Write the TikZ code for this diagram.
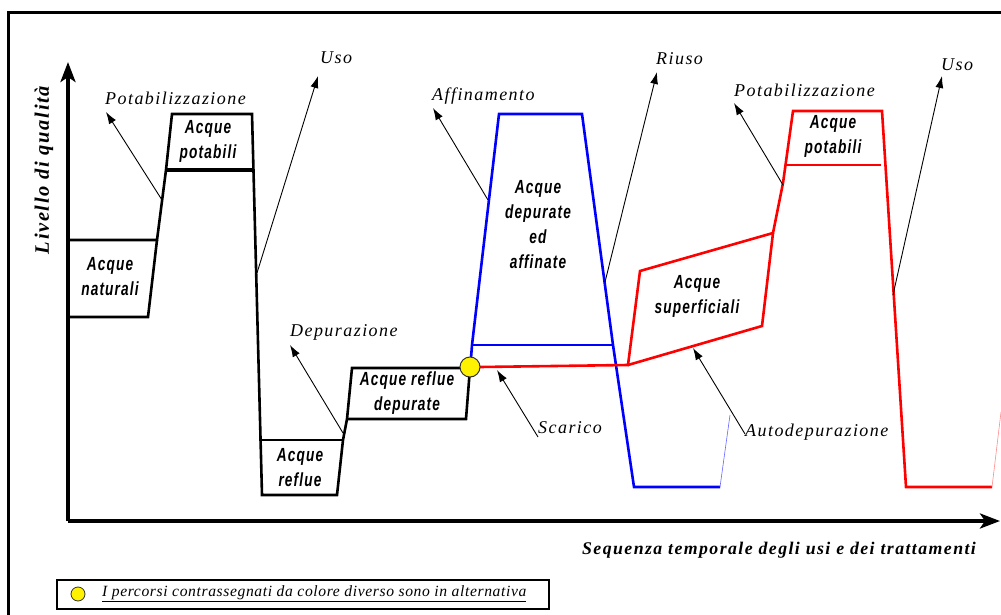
\documentclass[tikz,border=0pt]{standalone}
\usepackage{fontspec}
\setmainfont{Liberation Serif}
\newfontfamily\boxfont[FakeStretch=0.72,LetterSpace=6]{Liberation Sans}
\newfontfamily\lblfont[LetterSpace=8]{Liberation Serif}
\newfontfamily\legfont[LetterSpace=4]{Liberation Serif}
\usetikzlibrary{arrows.meta,positioning}
\tikzset{wline/.style={line width=2.6pt, line join=miter},
        blueline/.style={wline, draw=blue},
        redline/.style={wline, draw=red},
        faint/.style={line width=0.6pt},
        axis/.style={line width=3.6pt, -{Stealth[length=20pt,width=15pt,inset=5pt]}},
        pointer/.style={line width=0.9pt, -{Latex[length=12pt,width=8pt]}},
        note/.style={font=\lblfont\itshape\fontsize{18}{20}\selectfont, anchor=west, inner sep=0pt},
        tag/.style={font=\boxfont\bfseries\itshape\fontsize{19}{25}\selectfont, align=center, inner sep=0pt},
        junction/.style={circle, draw=black!80, fill=yellow, line width=1pt, inner sep=0pt},
        }

\begin{document}
\begin{tikzpicture}[x=1pt,y=-1pt]
    \useasboundingbox (0,0) rectangle (1001,615);
    % cornice
    \draw[line width=3pt] (8,615) -- (8,13) -- (1001,13);

    % assi
    \coordinate (origin) at (68,521);
    \coordinate (ytop) at (68,62);
    \coordinate (xend) at (1000,521);
    \draw[axis] (origin) -- (ytop);
    \draw[axis] (origin) -- (xend);
    \node[rotate=90, font=\lblfont\bfseries\itshape\fontsize{20.5}{22}\selectfont] (ylabel) at (44,170) {Livello di qualità};
    \node[font=\lblfont\bfseries\itshape\fontsize{17.8}{20}\selectfont] (xlabel) at (779,550) {Sequenza temporale degli usi e dei trattamenti};

    % percorso nero
    \draw[wline] (68,240) -- (157,240) -- (166,170) -- (172,114) -- (252,114) -- (262,495) -- (337,495)
        -- (343,440) -- (347,419) -- (352,368) -- (470,368);
    \draw[wline] (68,317) -- (148,317) -- (157,240);
    \draw[wline, line width=3.2pt] (166,170) -- (252,170);
    \draw[wline] (259,440) -- (343,440);
    \draw[wline] (347,419) -- (466,419) -- (470,368);

    % percorso blu
    \draw[blueline] (471,358) -- (472,345) -- (499,114) -- (582,114) -- (613,345) -- (634,487) -- (720,487);
    \draw[blueline] (472,345) -- (613,345);
    \draw[faint, blue!60] (720,487) -- (730,415);

    % percorso rosso
    \draw[redline] (480,367) -- (628,365) -- (640,271) -- (773,233) -- (783,183) -- (793,111) -- (882,111)
        -- (906,487) -- (992,487);
    \draw[redline] (628,365) -- (762,326) -- (773,233);
    \draw[redline] (785,165) -- (881,165);
    \draw[faint, red!45] (992,487) -- (1001,412);

    \node[junction, minimum size=20pt] (scarico) at (470,367) {};

    % testi nei tratti
    \node[tag] (naturali) at (110,277) {Acque\\naturali};
    \node[tag] (potabili) at (208,141) {Acque\\potabili};
    \node[tag] (reflue) at (300,468) {Acque\\reflue};
    \node[tag] (depurate) at (407,393) {Acque reflue\\depurate};
    \node[tag] (affinate) at (538,225) {Acque\\depurate\\ed\\affinate};
    \node[tag] (superficiali) at (697,296) {Acque\\superficiali};
    \node[tag] (potabiliB) at (833,136) {Acque\\potabili};

    % etichette dei processi
    \node[note] (potab) at (105,98) {Potabilizzazione};
    \node[note] (uso) at (320,58) {Uso};
    \node[note] (depur) at (290,332) {Depurazione};
    \node[note] (affin) at (432,96) {Affinamento};
    \node[note] (riuso) at (656,59) {Riuso};
    \node[note] (potabB) at (734,90) {Potabilizzazione};
    \node[note] (usoB) at (941,65) {Uso};
    \node[note] (scar) at (538,428) {Scarico};
    \node[note] (autodep) at (745,432) {Autodepurazione};

    \coordinate (p1) at (162,200);  \coordinate (t1) at (106,112);
    \coordinate (p2) at (257,273);  \coordinate (t2) at (318,76);
    \coordinate (p3) at (343,433);  \coordinate (t3) at (290,345);
    \coordinate (p4) at (488,200);  \coordinate (t4) at (433,108);
    \coordinate (p5) at (605,282);  \coordinate (t5) at (657,72);
    \coordinate (p6) at (783,185);  \coordinate (t6) at (734,103);
    \coordinate (p7) at (893,295);  \coordinate (t7) at (942,76);
    \coordinate (p8) at (538,437);  \coordinate (t8) at (497,370);
    \coordinate (p9) at (745,434);  \coordinate (t9) at (693,348);
    \foreach \i in {1,...,9}
        \draw[pointer] (p\i) -- (t\i);

    % legenda
    \node[draw, line width=1.5pt, minimum width=492pt, minimum height=29pt, inner sep=0pt] (legend) at (303,594.5) {};
    \node[junction, minimum size=14pt, line width=0.8pt] (legdot) at (78,594) {};
    \node[anchor=west, inner sep=0pt, font=\legfont\itshape\fontsize{15.6}{17}\selectfont] (legtext) at (102,594)
        {\underline{I percorsi contrassegnati da colore diverso sono in alternativa}};
\end{tikzpicture}
\end{document}
